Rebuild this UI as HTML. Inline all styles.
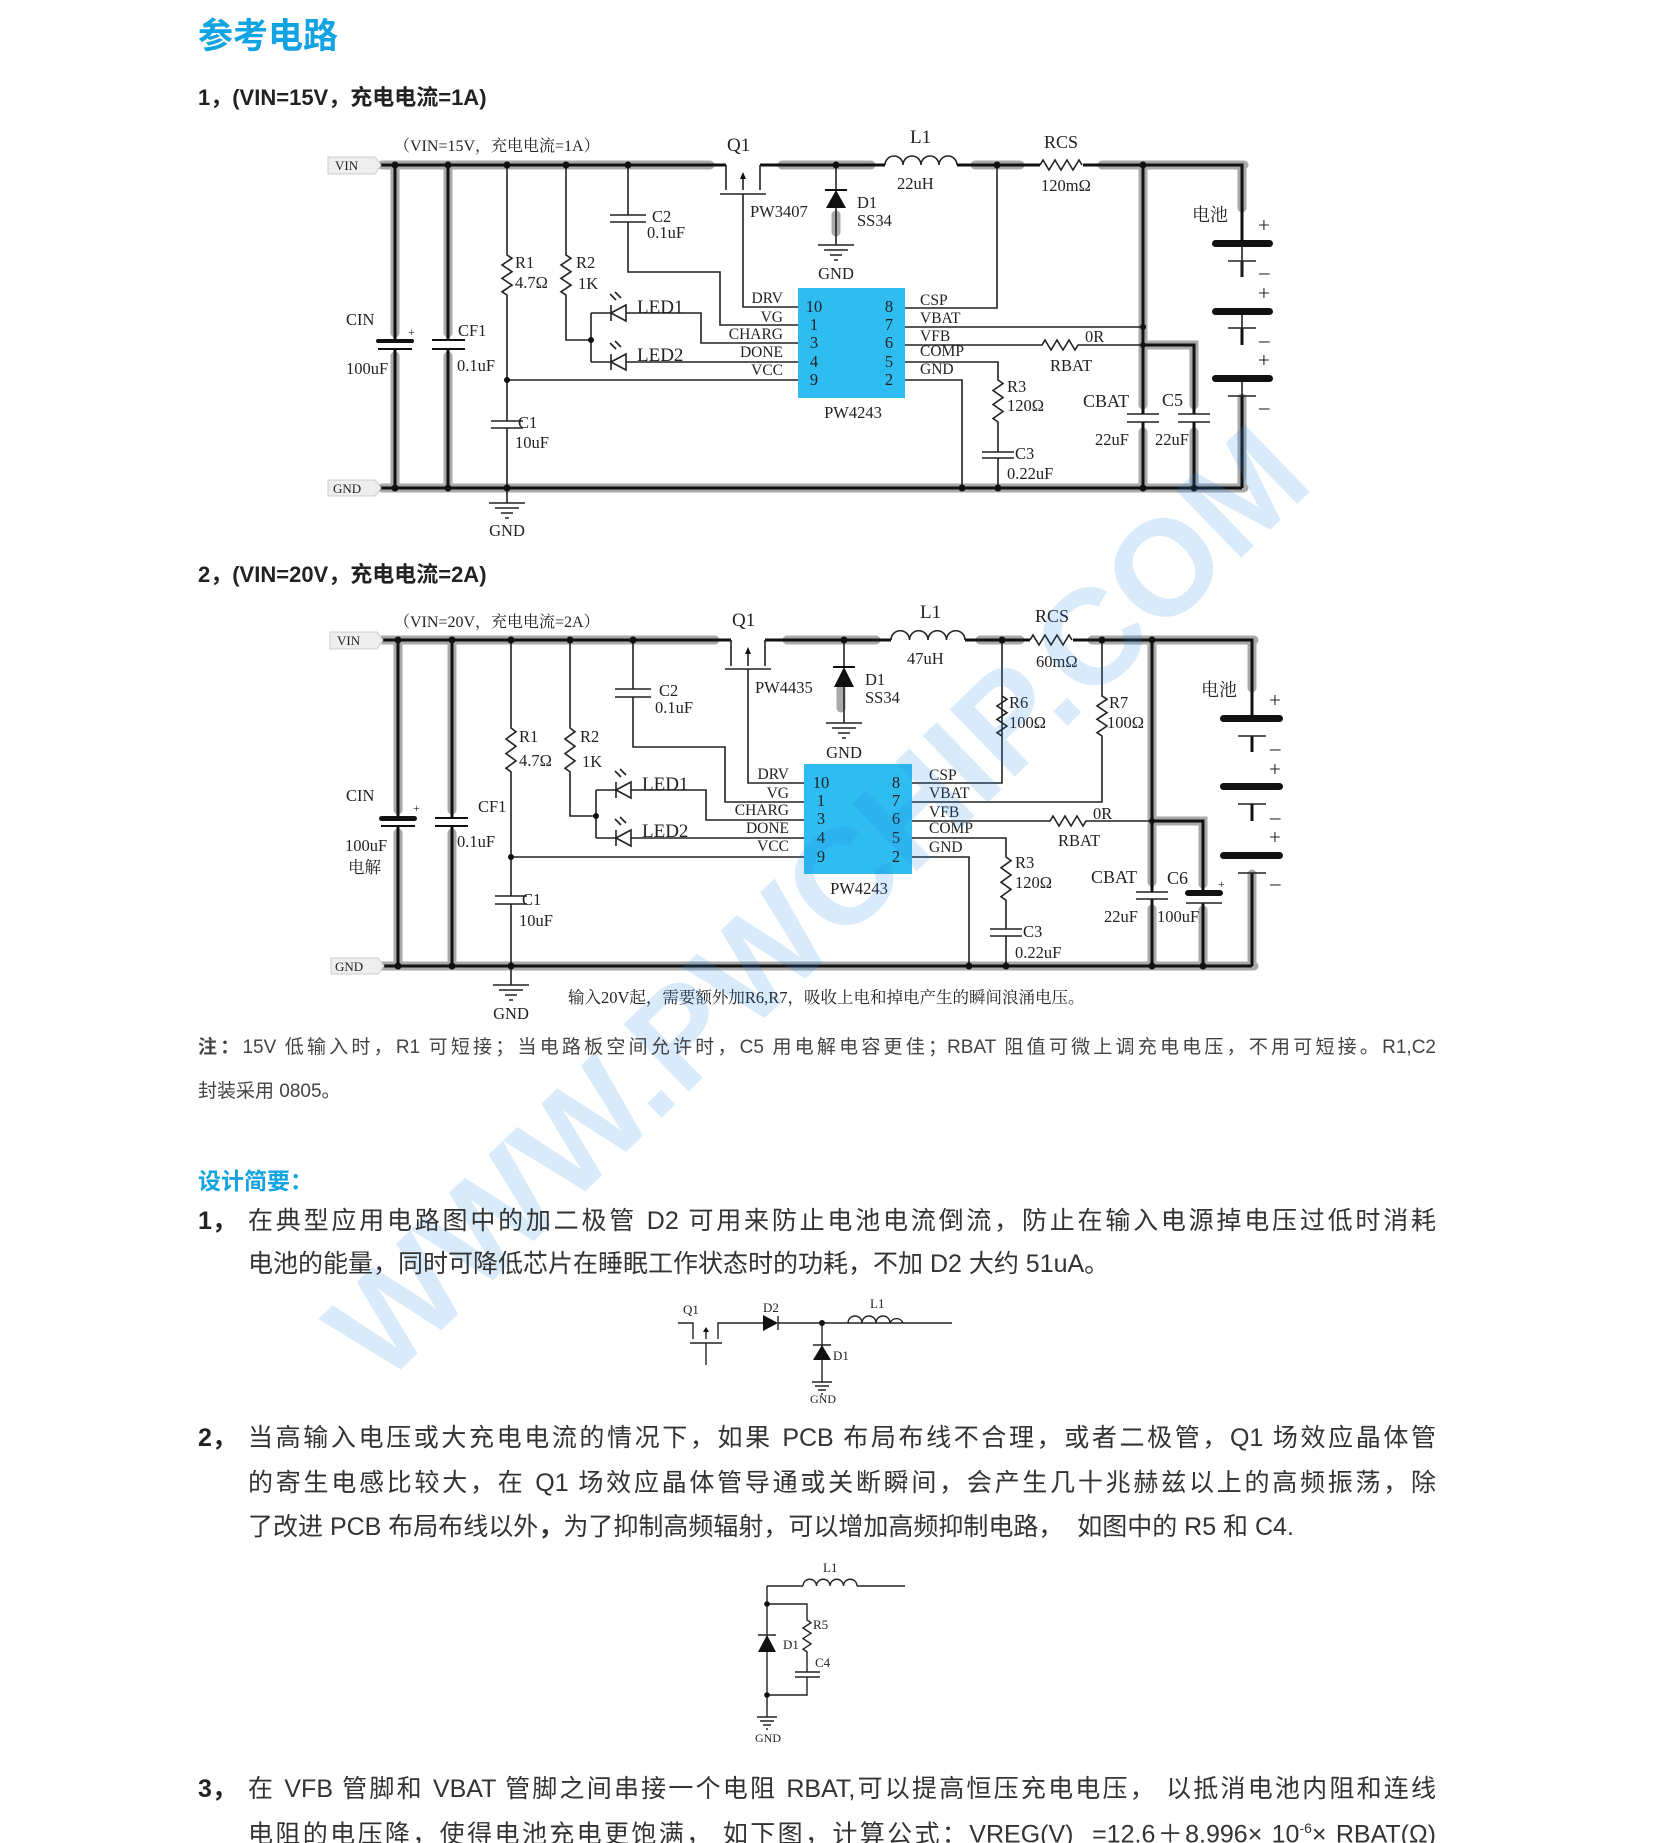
<!DOCTYPE html>
<html><head><meta charset="utf-8">
<style>
html,body{margin:0;padding:0;background:#fff;}
#pg{position:relative;width:1653px;height:1843px;overflow:hidden;background:#fff;font-family:"Liberation Sans","Noto Sans CJK SC",sans-serif;color:#333;}
.t{position:absolute;white-space:nowrap;}
.blue{color:#12a3e3;font-weight:bold;}
.ln{display:block;}
.j{text-align:justify;text-align-last:justify;}
svg text{font-family:"Liberation Serif","Noto Serif CJK SC",serif;fill:#222;}
</style></head><body><div id="pg">

<div class="t blue" style="left:198px;top:8px;font-size:35px;">参考电路</div>
<div class="t" style="left:198px;top:80px;font-size:22px;font-weight:bold;color:#222;">1，(VIN=15V，充电电流=1A)</div>
<div class="t" style="left:198px;top:557px;font-size:22px;font-weight:bold;color:#222;">2，(VIN=20V，充电电流=2A)</div>

<svg width="1653" height="1843" style="position:absolute;left:0;top:0" xmlns="http://www.w3.org/2000/svg">
<!-- ============ CIRCUIT 1 ============ -->
<g id="c1">
<g stroke="#a9a9a9" stroke-width="9" fill="none" stroke-linecap="round">
<path d="M382 165H710 M782 165H871 M975 165H1020 M1102 165H1244 M1242 165V208 M1242 398V488"/>
<path d="M382 488H1244 M395 165V333 M395 356V488 M448 165V333 M448 356V488 M1143 165V405 M1143 432V488 M1143 345H1194V405 M1194 432V488 M836 215V232"/>
</g>
<g stroke="#111" fill="none" stroke-width="3">
<path d="M380 165H726 M760 165H885 M957 165H1040 M1083 165H1242V243 M1242 261V277 M1242 328V345 M1242 396V488 M380 488H1242"/>
<path d="M395 165V341 M395 349V488 M448 165V340 M448 349V488 M1143 165V414 M1143 422V488 M1143 345H1194V414 M1194 422V488"/>
</g>
<g stroke="#222" fill="none" stroke-width="1.6">
<path d="M726 165V190 M743 175V190 M760 165V190 M720 194H766 M743 194V307H798"/>
<path d="M885 165a9 9 0 0 1 18 0a9 9 0 0 1 18 0a9 9 0 0 1 18 0a9 9 0 0 1 18 0"/>
<path d="M1040 165l3 -5l6 10l6 -10l6 10l6 -10l6 10l6 -10l3 5"/>
<path d="M836 165V190 M836 208V245 M818 245H854 M824 250H848 M830 255H842 M834 260H838"/>
<path d="M628 165V215 M628 222V272H720V325H798 M610 215H646 M610 222H646"/>
<path d="M507 165V255l5 3.3l-10 6.7l10 6.7l-10 6.7l10 6.7l-10 6.7l5 3.3V421 M507 428V503 M489 503H525 M495 508H519 M501 513H513 M505 518H509 M491 421H523 M491 428H523"/>
<path d="M566 165V255l5 3.3l-10 6.7l10 6.7l-10 6.7l10 6.7l-10 6.7l5 3.3V340H591"/>
<path d="M591 313V362 M591 313H611 M626 313H701V343H798 M591 362H611 M626 362H798 M507 380H798"/>
<path d="M611 305V321 M611 313L626 305V321Z M611 354V370 M611 362L626 354V370Z"/>
<path d="M616 300l-6 -6 M621 298l-6 -6 M616 349l-6 -6 M621 347l-6 -6"/>
<path d="M905 308H997V165 M905 327H1143 M905 345H1042l3 -5l6 10l6 -10l6 10l6 -10l6 10l3 -5H1143 M905 362H998V380l5 3.5l-10 7l10 7l-10 7l10 7l-10 7l5 3.5V452 M998 458V488 M982 452H1014 M982 458H1014 M905 380H962V488"/>
<path d="M1127 414H1159 M1127 422H1159 M1178 414H1210 M1178 422H1210"/>
<path d="M1228 261H1256 M1228 328H1256 M1228 396H1256 M1242 261V243 M1242 311V328 M1242 378V396 M1242 261V277"/>
</g>
<g fill="#111">
<polygon points="743,172 740,179 746,179"/>
<polygon points="826,208 846,208 836,190"/><rect x="825" y="189" width="22" height="2"/>
<rect x="376" y="339" width="38" height="4" rx="2"/><rect x="378" y="348" width="34" height="2"/>
<rect x="432" y="339" width="33" height="2"/><rect x="432" y="348" width="33" height="2"/>
<rect x="1212" y="240" width="61" height="7" rx="3.5"/><rect x="1212" y="308" width="61" height="7" rx="3.5"/><rect x="1212" y="375" width="61" height="7" rx="3.5"/>
<circle cx="395" cy="165" r="3.5"/><circle cx="448" cy="165" r="3.5"/><circle cx="507" cy="165" r="3.5"/><circle cx="566" cy="165" r="3.5"/><circle cx="628" cy="165" r="3.5"/><circle cx="836" cy="165" r="3.5"/><circle cx="997" cy="165" r="3.5"/><circle cx="1143" cy="165" r="3.5"/>
<circle cx="395" cy="488" r="3.5"/><circle cx="448" cy="488" r="3.5"/><circle cx="507" cy="488" r="3.5"/><circle cx="962" cy="488" r="3.5"/><circle cx="998" cy="488" r="3.5"/><circle cx="1143" cy="488" r="3.5"/><circle cx="1194" cy="488" r="3.5"/>
<circle cx="591" cy="340" r="3"/><circle cx="507" cy="380" r="3"/><circle cx="1143" cy="327" r="3"/><circle cx="1143" cy="345" r="3"/>
</g>
<rect x="798" y="288" width="107" height="110" fill="#2fbcf0"/>
<polygon points="328,157 375,157 381,165 375,174 328,174" fill="#eee" stroke="#ccc"/>
<polygon points="328,480 375,480 381,488 375,496 328,496" fill="#eee" stroke="#ccc"/>
<g font-size="16.5">
<text x="335" y="170" font-size="13" fill="#555">VIN</text>
<text x="333" y="493" font-size="13" fill="#555">GND</text>
<text x="394" y="151" font-size="16" fill="#444">（VIN=15V，充电电流=1A）</text>
<text x="727" y="151" font-size="19">Q1</text>
<text x="750" y="217">PW3407</text>
<text x="857" y="208">D1</text><text x="857" y="226">SS34</text>
<text x="836" y="279" text-anchor="middle">GND</text>
<text x="910" y="143" font-size="19">L1</text><text x="897" y="189">22uH</text>
<text x="1044" y="148" font-size="18">RCS</text><text x="1041" y="191">120mΩ</text>
<text x="652" y="222">C2</text><text x="647" y="238">0.1uF</text>
<text x="515" y="268">R1</text><text x="515" y="288">4.7Ω</text>
<text x="576" y="268">R2</text><text x="578" y="289">1K</text>
<text x="637" y="313" font-size="19">LED1</text><text x="637" y="361" font-size="19">LED2</text>
<g text-anchor="end" font-size="15.5"><text x="783" y="303">DRV</text><text x="783" y="322">VG</text><text x="783" y="339">CHARG</text><text x="783" y="357">DONE</text><text x="783" y="375">VCC</text></g>
<g text-anchor="middle"><text x="814" y="312">10</text><text x="814" y="330">1</text><text x="814" y="348">3</text><text x="814" y="367">4</text><text x="814" y="385">9</text>
<text x="889" y="312">8</text><text x="889" y="330">7</text><text x="889" y="348">6</text><text x="889" y="367">5</text><text x="889" y="385">2</text>
<text x="853" y="418">PW4243</text><text x="507" y="536">GND</text></g>
<g font-size="15.5"><text x="920" y="305">CSP</text><text x="920" y="323">VBAT</text><text x="920" y="341">VFB</text><text x="920" y="356">COMP</text><text x="920" y="374">GND</text></g>
<text x="518" y="428">C1</text><text x="515" y="448">10uF</text>
<text x="346" y="325">CIN</text><text x="408" y="336" font-size="12">+</text><text x="346" y="374">100uF</text>
<text x="458" y="336">CF1</text><text x="457" y="371">0.1uF</text>
<text x="1007" y="392">R3</text><text x="1007" y="411">120Ω</text>
<text x="1015" y="459">C3</text><text x="1007" y="479">0.22uF</text>
<text x="1085" y="342">0R</text><text x="1050" y="371">RBAT</text>
<text x="1083" y="407" font-size="18">CBAT</text><text x="1162" y="406" font-size="18">C5</text>
<text x="1095" y="445">22uF</text><text x="1155" y="445">22uF</text>
<text x="1192" y="221" font-size="18">电池</text>
<g font-size="21" font-family="Liberation Sans"><text x="1258" y="232">+</text><text x="1258" y="300">+</text><text x="1258" y="367">+</text><text x="1259" y="279">–</text><text x="1259" y="347">–</text><text x="1259" y="414">–</text></g>
</g>
</g>

<!-- ============ CIRCUIT 2 ============ -->
<g transform="translate(5,476)">
<g stroke="#a9a9a9" stroke-width="9" fill="none" stroke-linecap="round">
<path d="M377 164H710 M782 164H871 M975 164H1015 M1087 164H1249 M1247 164V212 M1247 398V490"/>
<path d="M377 490H1249 M393 164V334 M393 357V490 M447 164V334 M447 357V490 M1147 164V406 M1147 433V490 M1147 345H1198V408 M1198 434V490 M836 213V232"/>
</g>
<g stroke="#111" fill="none" stroke-width="3">
<path d="M377 164H726 M760 164H886 M960 164H1025 M1068 164H1247V242 M1247 260V276 M1247 328V345 M1247 397V490 M377 490H1247"/>
<path d="M393 164V342 M393 351V490 M447 164V342 M447 350V490 M1147 164V416 M1147 423V490 M1147 345H1198V417 M1198 427V490"/>
</g>
<g stroke="#222" fill="none" stroke-width="1.6">
<path d="M726 164V190 M743 174V190 M760 164V190 M720 193H766 M743 193V307H799"/>
<path d="M886 164a9.25 9.25 0 0 1 18.5 0a9.25 9.25 0 0 1 18.5 0a9.25 9.25 0 0 1 18.5 0a9.25 9.25 0 0 1 18.5 0"/>
<path d="M1025 164l3 -5l6 10l6 -10l6 10l6 -10l6 10l6 -10l3 5"/>
<path d="M839 164V191 M839 211V247 M821 247H857 M827 252H851 M833 257H845 M837 262H841"/>
<path d="M628 164V213 M628 221V271H720V326H799 M610 213H646 M610 221H646"/>
<path d="M506 164V252l5 3.7l-10 7.3l10 7.3l-10 7.3l10 7.3l-10 7.3l5 3.7V420 M506 428V509 M488 509H524 M494 514H518 M500 519H512 M504 524H508 M490 420H522 M490 428H522"/>
<path d="M565 164V252l5 3.7l-10 7.3l10 7.3l-10 7.3l10 7.3l-10 7.3l5 3.7V340H591"/>
<path d="M591 314V362 M591 314H611 M626 314H701V344H799 M591 362H611 M626 362H799 M506 381H799"/>
<path d="M611 306V322 M611 314L626 306V322Z M611 354V370 M611 362L626 354V370Z"/>
<path d="M616 301l-6 -6 M621 299l-6 -6 M616 349l-6 -6 M621 347l-6 -6"/>
<path d="M907 307H997V220l5 3.3l-10 6.7l10 6.7l-10 6.7l10 6.7l-10 6.7l5 3.3V164 M907 326H1097V260l-5 -3.3l10 -6.7l-10 -6.7l10 -6.7l-10 -6.7l10 -6.7l-5 -3.3V164"/>
<path d="M907 345H1045l3 -5l6 10l6 -10l6 10l6 -10l6 10l3 -5H1147 M907 362H1001V381l5 3.6l-10 7.2l10 7.2l-10 7.2l10 7.2l-10 7.2l5 3.6V453 M1001 460V490 M985 453H1017 M985 460H1017 M907 381H964V490"/>
<path d="M1131 416H1163 M1131 423H1163 M1181 427H1217"/>
<path d="M1233 260H1261 M1233 328H1261 M1233 397H1261"/>
</g>
<g fill="#111">
<polygon points="743,171 740,178 746,178"/>
<polygon points="829,211 849,211 839,191"/><rect x="828" y="190" width="22" height="2"/>
<rect x="374" y="340" width="38" height="5" rx="2.5"/><rect x="376" y="349" width="34" height="2"/>
<rect x="430" y="341" width="33" height="2"/><rect x="430" y="349" width="33" height="2"/>
<rect x="1180" y="414" width="38" height="6" rx="3"/>
<rect x="1215" y="239" width="63" height="7" rx="3.5"/><rect x="1215" y="307" width="63" height="7" rx="3.5"/><rect x="1215" y="376" width="63" height="7" rx="3.5"/>
<circle cx="393" cy="164" r="3.5"/><circle cx="447" cy="164" r="3.5"/><circle cx="506" cy="164" r="3.5"/><circle cx="565" cy="164" r="3.5"/><circle cx="628" cy="164" r="3.5"/><circle cx="839" cy="164" r="3.5"/><circle cx="997" cy="164" r="3.5"/><circle cx="1097" cy="164" r="3.5"/><circle cx="1147" cy="164" r="3.5"/>
<circle cx="393" cy="490" r="3.5"/><circle cx="447" cy="490" r="3.5"/><circle cx="506" cy="490" r="3.5"/><circle cx="964" cy="490" r="3.5"/><circle cx="1001" cy="490" r="3.5"/><circle cx="1147" cy="490" r="3.5"/><circle cx="1198" cy="490" r="3.5"/>
<circle cx="591" cy="340" r="3"/><circle cx="506" cy="381" r="3"/><circle cx="1147" cy="345" r="3"/>
</g>
<rect x="799" y="288" width="108" height="110" fill="#2fbcf0"/>
<polygon points="325,156 372,156 378,164 372,173 325,173" fill="#eee" stroke="#ccc"/>
<polygon points="326,482 373,482 379,490 373,498 326,498" fill="#eee" stroke="#ccc"/>
<g font-size="16.5">
<text x="332" y="169" font-size="13" fill="#555">VIN</text>
<text x="330" y="495" font-size="13" fill="#555">GND</text>
<text x="389" y="151" font-size="16" fill="#444">（VIN=20V，充电电流=2A）</text>
<text x="727" y="150" font-size="19">Q1</text>
<text x="750" y="217">PW4435</text>
<text x="860" y="209">D1</text><text x="860" y="227">SS34</text>
<text x="839" y="282" text-anchor="middle">GND</text>
<text x="915" y="142" font-size="19">L1</text><text x="902" y="188">47uH</text>
<text x="1030" y="146" font-size="18">RCS</text><text x="1031" y="191">60mΩ</text>
<text x="654" y="220">C2</text><text x="650" y="237">0.1uF</text>
<text x="514" y="266">R1</text><text x="514" y="290">4.7Ω</text>
<text x="575" y="266">R2</text><text x="577" y="291">1K</text>
<text x="637" y="314" font-size="19">LED1</text><text x="637" y="361" font-size="19">LED2</text>
<g text-anchor="end" font-size="15.5"><text x="784" y="303">DRV</text><text x="784" y="322">VG</text><text x="784" y="339">CHARG</text><text x="784" y="357">DONE</text><text x="784" y="375">VCC</text></g>
<g text-anchor="middle"><text x="816" y="312">10</text><text x="816" y="330">1</text><text x="816" y="348">3</text><text x="816" y="367">4</text><text x="816" y="386">9</text>
<text x="891" y="312">8</text><text x="891" y="330">7</text><text x="891" y="348">6</text><text x="891" y="367">5</text><text x="891" y="386">2</text>
<text x="854" y="418">PW4243</text><text x="506" y="543">GND</text></g>
<g font-size="15.5"><text x="924" y="304">CSP</text><text x="924" y="322">VBAT</text><text x="924" y="341">VFB</text><text x="924" y="357">COMP</text><text x="924" y="376">GND</text></g>
<text x="517" y="429">C1</text><text x="514" y="450">10uF</text>
<text x="341" y="325">CIN</text><text x="408" y="336" font-size="12">+</text><text x="340" y="375">100uF</text><text x="343" y="397">电解</text>
<text x="473" y="336">CF1</text><text x="452" y="371">0.1uF</text>
<text x="1004" y="232">R6</text><text x="1004" y="252">100Ω</text>
<text x="1104" y="232">R7</text><text x="1102" y="252">100Ω</text>
<text x="1010" y="392">R3</text><text x="1010" y="412">120Ω</text>
<text x="1018" y="461">C3</text><text x="1010" y="482">0.22uF</text>
<text x="1088" y="343">0R</text><text x="1053" y="370">RBAT</text>
<text x="1086" y="407" font-size="18">CBAT</text><text x="1162" y="408" font-size="18">C6</text><text x="1213" y="412" font-size="12">+</text>
<text x="1099" y="446">22uF</text><text x="1152" y="446">100uF</text>
<text x="1196" y="220" font-size="18">电池</text>
<g font-size="21" font-family="Liberation Sans"><text x="1264" y="231">+</text><text x="1264" y="300">+</text><text x="1264" y="368">+</text><text x="1265" y="279">–</text><text x="1265" y="348">–</text><text x="1265" y="414">–</text></g>
<text x="563" y="527" font-size="16.5" fill="#444">输入20V起，需要额外加R6,R7，吸收上电和掉电产生的瞬间浪涌电压。</text>
</g>
</g>

<!-- small diagram 1 -->
<g stroke="#222" fill="none" stroke-width="1.4">
<path d="M678 1323H693V1339 M706 1329V1339 M718 1339V1323H763 M690 1343H722 M706 1343V1365 M778 1323H952 M778 1316V1330"/>
<path d="M848 1323a7 7 0 0 1 14 0a7 7 0 0 1 14 0a7 7 0 0 1 14 0a7 7 0 0 1 13 0"/>
<path d="M822 1323V1382 M812 1382H832 M815 1386H829 M818 1390H826 M821 1394H823 M813 1345H831"/>
</g>
<g fill="#111"><polygon points="763,1315 763,1331 778,1323"/><polygon points="813,1360 831,1360 822,1345"/><polygon points="706,1327 703,1332 709,1332"/><circle cx="822" cy="1323" r="3"/></g>
<g font-size="13"><text x="683" y="1314">Q1</text><text x="763" y="1312">D2</text><text x="870" y="1308">L1</text><text x="833" y="1360">D1</text><text x="810" y="1403" font-size="12">GND</text></g>

<!-- small diagram 2 -->
<g stroke="#222" fill="none" stroke-width="1.4">
<path d="M767 1586H803 M857 1586H905 M767 1586V1717 M767 1604H807V1620l4 2.7l-8 5.3l8 5.3l-8 5.3l8 5.3l-8 5.3l4 2.7V1672 M807 1677V1695H767 M795 1672H820 M795 1677H820 M757 1717H777 M760 1721H774 M763 1725H771 M766 1729H768 M758 1635H776"/>
<path d="M803 1586a6.75 6.75 0 0 1 13.5 0a6.75 6.75 0 0 1 13.5 0a6.75 6.75 0 0 1 13.5 0a6.75 6.75 0 0 1 13.5 0"/>
</g>
<g fill="#111"><polygon points="758,1652 776,1652 767,1635"/><circle cx="767" cy="1604" r="2.8"/><circle cx="767" cy="1695" r="2.8"/></g>
<g font-size="13"><text x="823" y="1572">L1</text><text x="813" y="1629">R5</text><text x="783" y="1649">D1</text><text x="815" y="1667">C4</text><text x="755" y="1742" font-size="12">GND</text></g>

<!-- watermark -->
<text x="815" y="950" text-anchor="middle" transform="rotate(-44 815 900)" font-weight="bold" font-size="136" style="fill:#1e88e5;fill-opacity:0.17;font-family:'Liberation Sans',sans-serif">WWW.PWCHIP.COM</text>
</svg>

<div class="t" style="left:198px;top:1026px;font-size:19px;line-height:44px;color:#444;white-space:normal;width:1238px;">
<span class="ln j"><b>注：</b>15V 低输入时，R1 可短接；当电路板空间允许时，C5 用电解电容更佳；RBAT 阻值可微上调充电电压，不用可短接。R1,C2</span>
<span class="ln">封装采用 0805。</span>
</div>

<div class="t blue" style="left:198px;top:1162px;font-size:23px;">设计简要：</div>

<div class="t" style="left:198px;top:1200px;font-size:25px;line-height:43px;font-weight:bold;color:#222;">1，</div>
<div class="t" style="left:248px;top:1200px;font-size:25px;line-height:43px;color:#333;white-space:normal;width:1188px;">
<span class="ln j">在典型应用电路图中的加二极管 D2 可用来防止电池电流倒流，防止在输入电源掉电压过低时消耗</span>
<span class="ln">电池的能量，同时可降低芯片在睡眠工作状态时的功耗，不加 D2 大约 51uA。</span>
</div>

<div class="t" style="left:198px;top:1416px;font-size:25px;line-height:44.5px;font-weight:bold;color:#222;">2，</div>
<div class="t" style="left:248px;top:1416px;font-size:25px;line-height:44.5px;color:#333;white-space:normal;width:1188px;">
<span class="ln j">当高输入电压或大充电电流的情况下，如果 PCB 布局布线不合理，或者二极管，Q1 场效应晶体管</span>
<span class="ln j">的寄生电感比较大，在 Q1 场效应晶体管导通或关断瞬间，会产生几十兆赫兹以上的高频振荡，除</span>
<span class="ln">了改进 PCB 布局布线以外<b>，</b>为了抑制高频辐射，可以增加高频抑制电路，&nbsp;&nbsp;如图中的 R5 和 C4.</span>
</div>

<div class="t" style="left:198px;top:1770px;font-size:25px;line-height:39px;font-weight:bold;color:#222;">3，</div>
<div class="t" style="left:248px;top:1770px;font-size:25px;line-height:39px;color:#333;white-space:normal;width:1188px;">
<span class="ln j">在 VFB 管脚和 VBAT 管脚之间串接一个电阻 RBAT,可以提高恒压充电电压，&nbsp;以抵消电池内阻和连线</span>
<span class="ln j">电阻的电压降，使得电池充电更饱满，&nbsp;如下图，计算公式：VREG(V)&nbsp;&nbsp;=12.6＋8.996× 10<sup style="font-size:14px">-6</sup>× RBAT(Ω)</span>
</div>

</div></body></html>
